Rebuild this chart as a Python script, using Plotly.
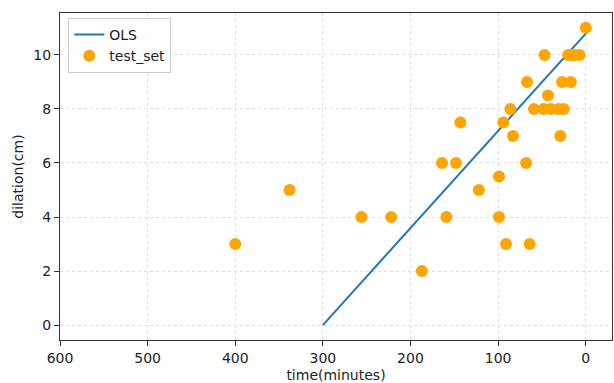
import plotly.graph_objects as go

# OLS fit line endpoints
ols_time = [300, -6]
ols_dilation = [0, 11]

# test set points
test_time = [400, 338, 256, 222, 187, 164, 159, 148, 143, 122, 99, 99, 94, 91,
             86, 83, 68, 67, 64, 59, 47, 48, 43, 40, 31, 29, 27, 25, 17, 20,
             16, 12, 7, 0]
test_dilation = [3, 5, 4, 4, 2, 6, 4, 6, 7.5, 5, 5.5, 4, 7.5, 3,
                 8, 7, 6, 9, 3, 8, 10, 8, 8.5, 8, 8, 7, 9, 8, 9, 10,
                 10, 10, 10, 11]

x_ticks = [600, 500, 400, 300, 200, 100, 0]
y_ticks = [0, 2, 4, 6, 8, 10]

fig = go.Figure()
fig.add_trace(go.Scatter(x=ols_time, y=ols_dilation, mode="lines", name="OLS",
                         line=dict(color="#1f77b4", width=2)))
fig.add_trace(go.Scatter(x=test_time, y=test_dilation, mode="markers", name="test_set",
                         marker=dict(color="#FFA500", size=12)))

axis_common = dict(showline=True, linecolor="#333", linewidth=1, mirror=True,
                   ticks="outside", ticklen=5, tickcolor="#333",
                   showgrid=True, gridcolor="#e0e0e0", griddash="dot", gridwidth=1,
                   zeroline=False, automargin=False, tickfont=dict(size=14, color="#222"))

fig.update_layout(
    width=614, height=383,
    margin=dict(l=60, r=2, t=13, b=43),
    paper_bgcolor="white", plot_bgcolor="white",
    font=dict(family="DejaVu Sans", size=14, color="#222"),
    xaxis=dict(range=[600, -30], tickvals=x_ticks,
               title=dict(text="time(minutes)", font=dict(size=14), standoff=6), **axis_common),
    yaxis=dict(range=[-0.55, 11.55], tickvals=y_ticks,
               title=dict(text="dilation(cm)", font=dict(size=14), standoff=6), **axis_common),
    legend=dict(x=0.015, y=0.985, xanchor="left", yanchor="top",
                bgcolor="rgba(255,255,255,0.8)", bordercolor="#ccc", borderwidth=1,
                font=dict(size=14), tracegroupgap=0),
)

fig.write_html("out.html", config={"displayModeBar": False},
               post_script="document.body.style.margin='0';")
